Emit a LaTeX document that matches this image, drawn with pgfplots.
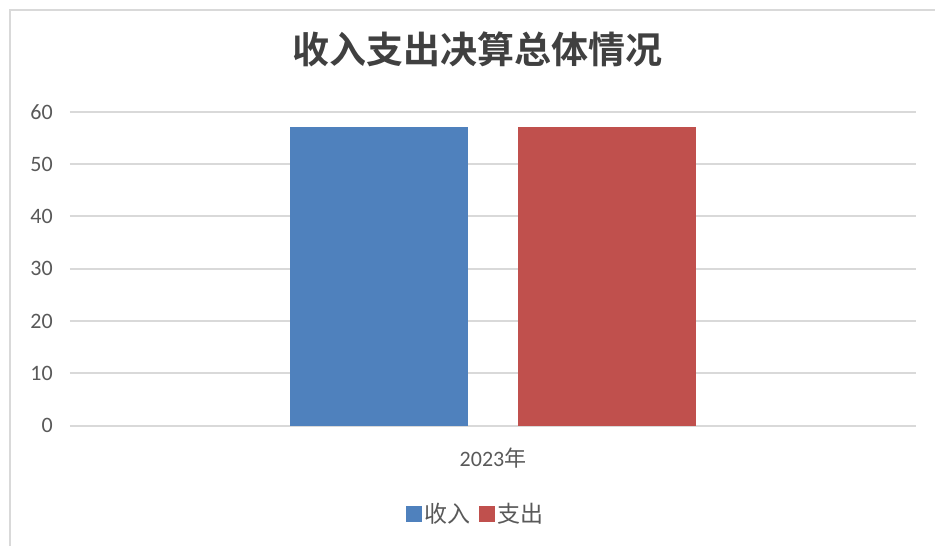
\documentclass[border=0pt]{standalone}
\usepackage{pgfplots}
\pgfplotsset{compat=1.18}
\usepackage{fontspec}
\setmainfont{Carlito}
\newfontfamily\cjk{Noto Sans CJK SC}
\newfontfamily\cjkb{Noto Sans CJK SC Bold}
\definecolor{barblue}{HTML}{4F81BD}
\definecolor{barred}{HTML}{C0504D}
\definecolor{gridc}{HTML}{D9D9D9}
\definecolor{textc}{HTML}{595959}
\definecolor{titlec}{HTML}{404040}
\begin{document}
\begin{tikzpicture}
\begin{axis}[
  name=ax,
  scale only axis, width=846pt, height=314pt,
  xmin=-0.5, xmax=0.5, ymin=0, ymax=60,
  ybar,
  ytick={0,10,...,60},
  xtick={0}, xticklabels={2023{\cjk 年}},
  axis line style={draw=none},
  major tick length=0pt,
  ymajorgrids, major grid style={gridc, line width=2pt},
  /pgf/number format/assume math mode=true,
  tick label style={text=textc, font=\fontsize{22}{26}\selectfont},
  yticklabel style={inner sep=0pt, xshift=-17pt},
  xticklabel style={inner sep=0pt, yshift=-22pt},
  legend style={at={(axis description cs:0.48,-0.2805)}, anchor=center,
    draw=none, fill=none, legend columns=2,
    font=\cjk\fontsize{23}{27}\selectfont, text=textc,
    nodes={inner sep=2.5pt},
    /tikz/every even column/.append style={column sep=6pt}},
]
\addplot[fill=barblue, draw=none, bar width=0.2104, bar shift=-0.1348,
  legend image code/.code={\fill[barblue] (0pt,-8pt) rectangle (16pt,8pt);}]
  coordinates {(0,57.1)};
\addlegendentry{收入}
\addplot[fill=barred, draw=none, bar width=0.2104, bar shift=0.1348,
  legend image code/.code={\fill[barred] (0pt,-8pt) rectangle (16pt,8pt);}]
  coordinates {(0,57.1)};
\addlegendentry{支出}
\coordinate (sw) at (rel axis cs:0,0);
\end{axis}
\begin{scope}[x=1pt,y=1pt,shift={(sw)},shift={(-70,-120.3)}]
\draw[line width=2pt, gridc] (10,-5) -- (10,536) -- (940,536);
\node[font=\cjkb\fontsize{37}{40}\selectfont, text=titlec, inner sep=0pt] at (477.5,497) {收入支出决算总体情况};
\pgfresetboundingbox
\useasboundingbox (0,0) rectangle (935,546);
\end{scope}
\end{tikzpicture}
\end{document}
